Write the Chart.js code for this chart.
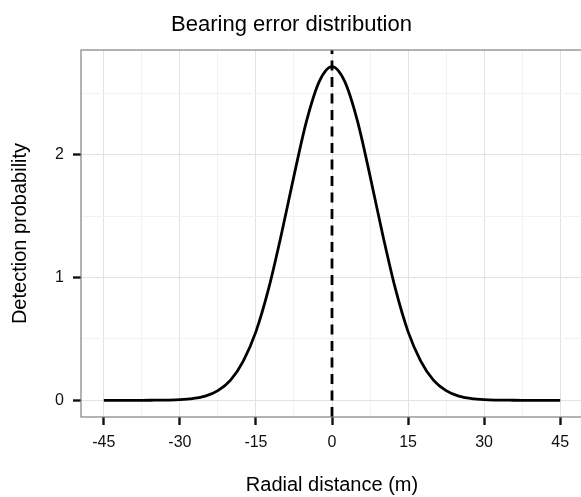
<!DOCTYPE html>
<html lang="en">
<head>
<meta charset="UTF-8">
<title>Bearing error distribution</title>
<script src="https://cdn.jsdelivr.net/npm/chart.js"></script>
<style>
  html, body { margin: 0; padding: 0; overflow: hidden; background: #fff; }
  canvas { display: block; }
</style>
</head>
<body>
<canvas id="chart" width="595" height="497"></canvas>
<script>
// values
const distance = [-45, -42.5, -40, -37.5, -35, -32.5, -30, -27.5, -25, -22.5, -20, -17.5, -15, -12.5, -10, -7.5, -5, -2.5,
                  0, 2.5, 5, 7.5, 10, 12.5, 15, 17.5, 20, 22.5, 25, 27.5, 30, 32.5, 35, 37.5, 40, 42.5, 45];
const probability = [0, 0, 0, 0, 0.001, 0.002, 0.005, 0.014, 0.034, 0.079, 0.165, 0.32, 0.56, 0.91, 1.35, 1.83, 2.28, 2.60,
                     2.72, 2.60, 2.28, 1.83, 1.35, 0.91, 0.56, 0.32, 0.165, 0.079, 0.034, 0.014, 0.005, 0.002, 0.001, 0, 0, 0, 0];
const meanDistance = 0;

const xTicks = [-45, -30, -15, 0, 15, 30, 45];
const xMinorTicks = [-37.5, -22.5, -7.5, 7.5, 22.5, 37.5];
const yTicks = [0, 1, 2];
const yMinorTicks = [0.5, 1.5, 2.5];
const xRange = [-49.5, 49.5];
const yRange = [-0.136, 2.856];

const font = 'Liberation Sans, Arial, Helvetica, sans-serif';

function setTicks(major, minor) {
  return scale => {
    scale.ticks = major.concat(minor).sort((a, b) => a - b).map(v => ({ value: v }));
  };
}

function gridFor(major) {
  return {
    color: c => (c.tick && major.includes(c.tick.value)) ? '#e2e2e2' : '#f2f2f2',
    lineWidth: 1,
    tickColor: c => (c.tick && major.includes(c.tick.value)) ? '#111' : 'rgba(0,0,0,0)',
    tickLength: 8,
    tickWidth: 2.4
  };
}

// ggplot style panel border
const panelBorder = {
  id: 'panelBorder',
  afterDraw(chart) {
    const { ctx, chartArea: a } = chart;
    ctx.save();
    ctx.strokeStyle = '#808080';
    ctx.lineWidth = 1.2;
    ctx.strokeRect(a.left, a.top, a.right - a.left, a.bottom - a.top);
    ctx.restore();
  }
};

new Chart(document.getElementById('chart'), {
  type: 'line',
  data: {
    datasets: [
      {
        data: distance.map((x, i) => ({ x: x, y: probability[i] })),
        borderColor: '#000',
        borderWidth: 2.8,
        pointRadius: 0,
        cubicInterpolationMode: 'monotone',
        fill: false
      },
      {
        data: [{ x: meanDistance, y: yRange[0] }, { x: meanDistance, y: yRange[1] }],
        borderColor: '#000',
        borderWidth: 2.8,
        borderDash: [10, 6.5],
        pointRadius: 0,
        fill: false
      }
    ]
  },
  options: {
    responsive: false,
    animation: false,
    layout: { padding: { left: 0, right: 12, top: 0, bottom: 0 } },
    plugins: {
      legend: { display: false },
      tooltip: { enabled: false },
      title: {
        display: true,
        text: 'Bearing error distribution',
        color: '#000',
        font: { family: font, size: 22, weight: 'normal' },
        padding: { top: 12, bottom: 11.6 }
      }
    },
    scales: {
      x: {
        type: 'linear',
        min: xRange[0],
        max: xRange[1],
        afterBuildTicks: setTicks(xTicks, xMinorTicks),
        afterFit: s => { s.height = 80; },
        grid: gridFor(xTicks),
        border: { display: false },
        ticks: {
          color: '#111',
          padding: 8,
          maxRotation: 0,
          autoSkip: false,
          font: { family: font, size: 16 },
          callback: v => xTicks.includes(v) ? String(v) : ''
        },
        title: {
          display: true,
          text: 'Radial distance (m)',
          color: '#000',
          font: { family: font, size: 20 },
          padding: { top: 0, bottom: 0 }
        }
      },
      y: {
        type: 'linear',
        min: yRange[0],
        max: yRange[1],
        afterBuildTicks: setTicks(yTicks, yMinorTicks),
        afterFit: s => { s.width = 81; },
        grid: gridFor(yTicks),
        border: { display: false },
        ticks: {
          color: '#111',
          padding: 9,
          autoSkip: false,
          font: { family: font, size: 16 },
          callback: v => yTicks.includes(v) ? String(v) : ''
        },
        title: {
          display: true,
          text: 'Detection probability',
          color: '#000',
          font: { family: font, size: 20 },
          padding: { top: 8, bottom: 0 }
        }
      }
    }
  },
  plugins: [panelBorder]
});
</script>
</body>
</html>
